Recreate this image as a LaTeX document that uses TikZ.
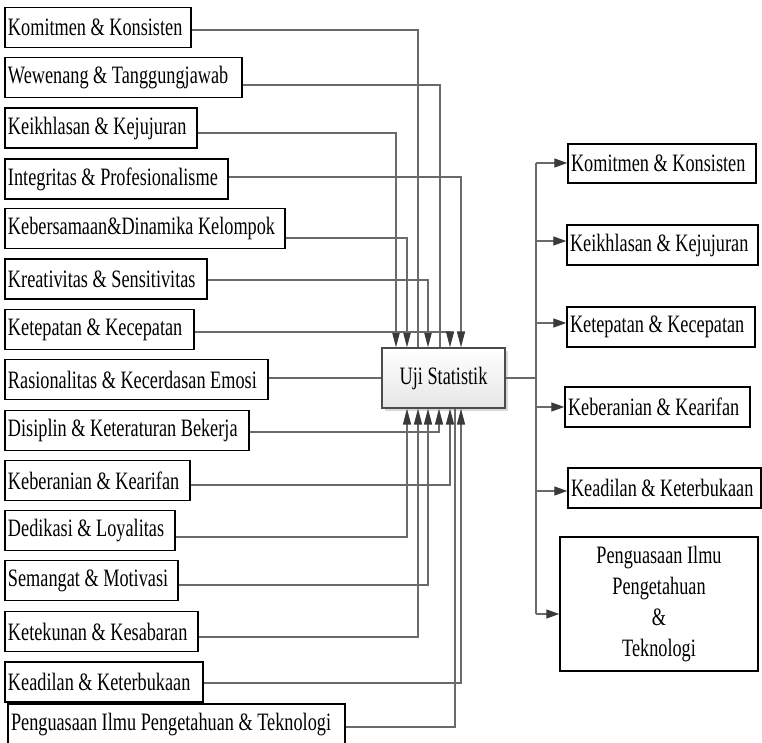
\documentclass[tikz,border=0pt]{standalone}
\usepackage{fontspec}
\setmainfont{Liberation Serif}[FakeStretch=0.73]
\usetikzlibrary{arrows.meta,shadows}
\definecolor{lnc}{HTML}{6A6A6A}
\definecolor{arc}{HTML}{3A3A3A}
\newcommand\boxtxt[2]{\makebox[#1][l]{#2}}
\begin{document}
\begin{tikzpicture}[x=1pt,y=-1pt,
  font=\fontsize{25}{31}\selectfont,
  lbox/.style={draw=black, line width=1.5pt, minimum height=40pt, inner xsep=3pt, inner ysep=0pt},
  rbox/.style={draw=black, line width=1.5pt, minimum height=40pt, inner xsep=3pt, inner ysep=0pt},
  conn/.style={draw=lnc, line width=1.3pt},
  arr/.style={conn, -{Triangle[length=16pt,width=8pt,color=arc]}},
  rarr/.style={conn, -{Triangle[length=13pt,width=9pt,color=arc]}}]
\useasboundingbox (0,0) rectangle (762,743);

% left boxes
\node[lbox] (l1) at (98,27.5) {\boxtxt{180pt}{Komitmen \& Konsisten}};
\node[lbox] (l2) at (123.5,77.5) {\boxtxt{231pt}{Wewenang \& Tanggungjawab}};
\node[lbox] (l3) at (101,128) {\boxtxt{186pt}{Keikhlasan \& Kejujuran}};
\node[lbox] (l4) at (116.5,179) {\boxtxt{217pt}{Integritas \& Profesionalisme}};
\node[lbox] (l5) at (145,228.5) {\boxtxt{274pt}{Kebersamaan\&Dinamika Kelompok}};
\node[lbox] (l6) at (106,279) {\boxtxt{196pt}{Kreativitas \& Sensitivitas}};
\node[lbox] (l7) at (99.5,329.5) {\boxtxt{183pt}{Ketepatan \& Kecepatan}};
\node[lbox] (l8) at (136.5,379.5) {\boxtxt{257pt}{Rasionalitas \& Kecerdasan Emosi}};
\node[lbox] (l9) at (127,430.5) {\boxtxt{238pt}{Disiplin \& Keteraturan Bekerja}};
\node[lbox] (l10) at (97.5,480.5) {\boxtxt{179pt}{Keberanian \& Kearifan}};
\node[lbox] (l11) at (90,530.5) {\boxtxt{164pt}{Dedikasi \& Loyalitas}};
\node[lbox] (l12) at (91.5,580.5) {\boxtxt{167pt}{Semangat \& Motivasi}};
\node[lbox] (l13) at (101.5,631.5) {\boxtxt{187pt}{Ketekunan \& Kesabaran}};
\node[lbox] (l14) at (104,682) {\boxtxt{192pt}{Keadilan \& Keterbukaan}};
\node[lbox, minimum height=41pt] (l15) at (176.5,724.5) {\boxtxt{331pt}{Penguasaan Ilmu Pengetahuan \& Teknologi}};

% central box
\node[draw=black!70, line width=1.2pt, top color=white, bottom color=black!10,
      minimum width=123pt, minimum height=60pt, inner sep=0pt,
      drop shadow={shadow xshift=3pt, shadow yshift=-3pt, fill=black!30}] (uji) at (443.5,378) {Uji Statistik};

% right boxes
\node[rbox, minimum height=39pt] (r1) at (662,163.5) {\boxtxt{182pt}{Komitmen \& Konsisten}};
\node[rbox] (r2) at (662.5,245) {\boxtxt{185pt}{Keikhlasan \& Kejujuran}};
\node[rbox] (r3) at (661,327) {\boxtxt{182pt}{Ketepatan \& Kecepatan}};
\node[rbox] (r4) at (657.5,407) {\boxtxt{179pt}{Keberanian \& Kearifan}};
\node[rbox] (r5) at (664.5,488) {\boxtxt{187pt}{Keadilan \& Keterbukaan}};
\node[rbox, minimum width=198pt, minimum height=134pt, align=center] (r6) at (659,604) {Penguasaan Ilmu\\Pengetahuan\\\&\\Teknologi};

% connectors into top of central box
\draw[conn] (l1.east |- 0,30) -| (uji.north -| 418,0);
\draw[conn] (l2.east |- 0,85) -| (uji.north -| 440,0);
\draw[arr] (l3.east |- 0,133) -| (uji.north -| 396,0);
\draw[arr] (l4.east |- 0,177) -| (uji.north -| 461,0);
\draw[arr] (l5.east |- 0,238) -| (uji.north -| 407,0);
\draw[arr] (l6.east |- 0,280) -| (uji.north -| 428,0);
\draw[arr] (l7.east |- 0,332) -| (uji.north -| 450,0);
% side
\draw[conn] (l8.east |- 0,378) -- (uji.west);
% connectors into bottom of central box
\draw[arr] (l9.east |- 0,432) -| (uji.south -| 439,0);
\draw[arr] (l10.east |- 0,485) -| (uji.south -| 450,0);
\draw[arr] (l11.east |- 0,537) -| (uji.south -| 407,0);
\draw[arr] (l12.east |- 0,585) -| (uji.south -| 428,0);
\draw[arr] (l13.east |- 0,637) -| (uji.south -| 418,0);
\draw[arr] (l14.east |- 0,683) -| (uji.south -| 461,0);
\draw[conn] (l15.east |- 0,727) -| (uji.south -| 455,0);

% output trunk
\coordinate (tt) at (536,163);
\coordinate (tb) at (536,614);
\draw[conn] (uji.east) -- (uji.east -| tt);
\draw[conn] (tt) -- (tb);
\draw[rarr] (tt) -- (r1.west |- tt);
\draw[rarr] ([yshift=4pt]r2.west -| tt) -- ([yshift=4pt]r2.west);
\draw[rarr] ([yshift=4pt]r3.west -| tt) -- ([yshift=4pt]r3.west);
\draw[rarr] (r4.west -| tt) -- (r4.west);
\draw[rarr] ([yshift=-3pt]r5.west -| tt) -- ([yshift=-3pt]r5.west);
\draw[rarr] (tb) -- (r6.west |- tb);
\end{tikzpicture}
\end{document}
